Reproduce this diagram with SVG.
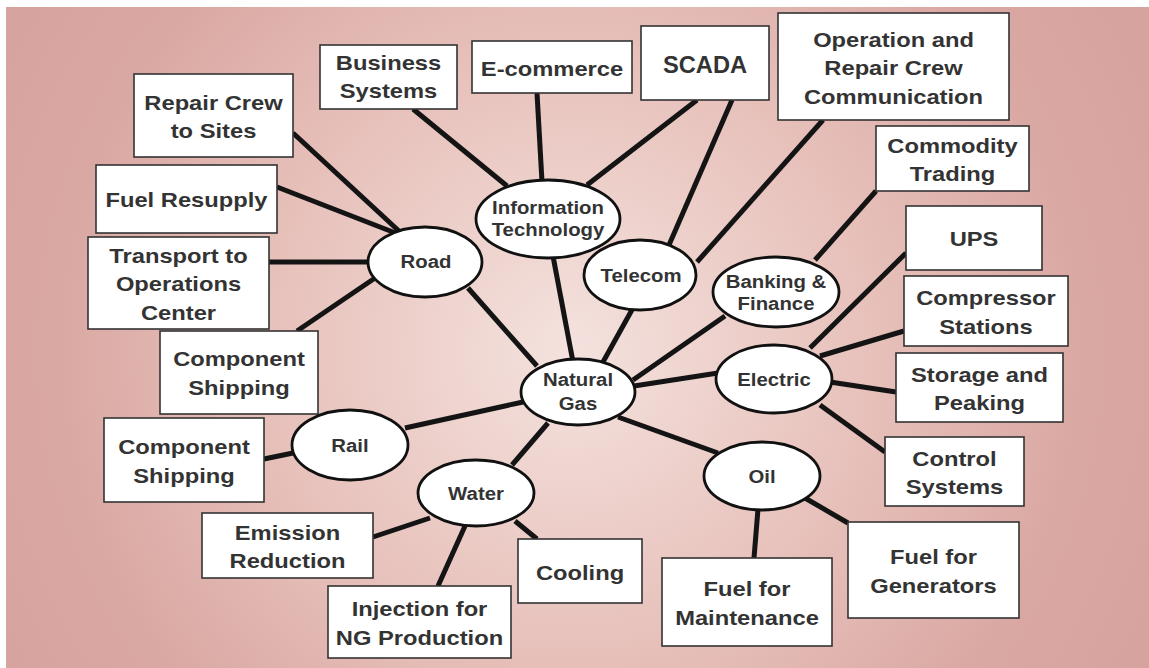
<svg xmlns="http://www.w3.org/2000/svg" width="1149" height="668" viewBox="0 0 1149 668">
<defs>
<radialGradient id="bg" gradientUnits="userSpaceOnUse" cx="570" cy="350" r="640">
<stop offset="0" stop-color="#f4e2de"/>
<stop offset="0.45" stop-color="#e8c2bc"/>
<stop offset="0.8" stop-color="#daa8a3"/>
<stop offset="1" stop-color="#d7a39e"/>
</radialGradient>
<style>
.box{fill:#fff;stroke:#333;stroke-width:1.6}
.ell{fill:#fff;stroke:#111;stroke-width:2.8}
.bt{font-family:"Liberation Sans",Arial,sans-serif;font-weight:bold;font-size:21px;fill:#333;text-anchor:middle}
.et{font-family:"Liberation Sans",Arial,sans-serif;font-weight:bold;font-size:18.5px;fill:#333;text-anchor:middle}
.con line{stroke:#141414;stroke-width:5;stroke-linecap:butt}
</style>
</defs>
<rect x="0" y="0" width="1149" height="668" fill="#fff"/>
<rect x="6" y="7" width="1143" height="661" fill="url(#bg)"/>
<g class="con" id="connectors">
<line x1="293" y1="133" x2="400" y2="232"/>
<line x1="277" y1="187" x2="398" y2="234"/>
<line x1="269" y1="262" x2="370" y2="262"/>
<line x1="297" y1="331" x2="375" y2="278"/>
<line x1="413" y1="109" x2="507" y2="186"/>
<line x1="537" y1="93" x2="542" y2="182"/>
<line x1="697" y1="100" x2="587" y2="185"/>
<line x1="732" y1="100" x2="669" y2="245"/>
<line x1="823" y1="120" x2="697" y2="262"/>
<line x1="553" y1="256" x2="573" y2="362"/>
<line x1="468" y1="288" x2="537" y2="366"/>
<line x1="633" y1="308" x2="603" y2="362"/>
<line x1="725" y1="316" x2="633" y2="380"/>
<line x1="876" y1="191" x2="815" y2="260"/>
<line x1="906" y1="253" x2="810" y2="348"/>
<line x1="904" y1="331" x2="820" y2="356"/>
<line x1="830" y1="382" x2="896" y2="392"/>
<line x1="820" y1="405" x2="885" y2="452"/>
<line x1="718" y1="373" x2="634" y2="386"/>
<line x1="618" y1="417" x2="718" y2="453"/>
<line x1="523" y1="402" x2="405" y2="428"/>
<line x1="548" y1="423" x2="512" y2="465"/>
<line x1="293" y1="453" x2="264" y2="459"/>
<line x1="430" y1="518" x2="373" y2="537"/>
<line x1="465" y1="526" x2="438" y2="586"/>
<line x1="515" y1="521" x2="537" y2="539"/>
<line x1="758" y1="509" x2="754" y2="558"/>
<line x1="805" y1="498" x2="848" y2="523"/>
</g>
<g id="repair-crew"><rect class="box" x="134" y="74" width="159" height="83"/><text class="bt" transform="translate(213.5,0) scale(1.13,1)"><tspan x="0" y="109.7">Repair Crew</tspan><tspan x="0" y="138.2">to Sites</tspan></text></g>
<g id="fuel-resupply"><rect class="box" x="96" y="165" width="181" height="68"/><text class="bt" transform="translate(186.5,0) scale(1.13,1)" x="0" y="207.5">Fuel Resupply</text></g>
<g id="transport"><rect class="box" x="88" y="237" width="181" height="92"/><text class="bt" transform="translate(178.5,0) scale(1.13,1)"><tspan x="0" y="263">Transport to</tspan><tspan x="0" y="291.5">Operations</tspan><tspan x="0" y="320">Center</tspan></text></g>
<g id="component-shipping-road"><rect class="box" x="160" y="331" width="158" height="83"/><text class="bt" transform="translate(239,0) scale(1.13,1)"><tspan x="0" y="366.2">Component</tspan><tspan x="0" y="394.7">Shipping</tspan></text></g>
<g id="component-shipping-rail"><rect class="box" x="104" y="418" width="160" height="84"/><text class="bt" transform="translate(184,0) scale(1.13,1)"><tspan x="0" y="454.2">Component</tspan><tspan x="0" y="482.7">Shipping</tspan></text></g>
<g id="business-systems"><rect class="box" x="320" y="45" width="137" height="64"/><text class="bt" transform="translate(388.5,0) scale(1.13,1)"><tspan x="0" y="70.5">Business</tspan><tspan x="0" y="98.5">Systems</tspan></text></g>
<g id="e-commerce"><rect class="box" x="472" y="41" width="160" height="52"/><text class="bt" transform="translate(552,0) scale(1.13,1)" x="0" y="76">E-commerce</text></g>
<g id="scada"><rect class="box" x="641" y="26" width="128" height="74"/><text class="bt" style="font-size:23px" transform="translate(705,0) scale(1.03,1)" x="0" y="73.5">SCADA</text></g>
<g id="operation-repair"><rect class="box" x="778" y="13" width="231" height="107"/><text class="bt" transform="translate(893.5,0) scale(1.13,1)"><tspan x="0" y="47">Operation and</tspan><tspan x="0" y="75.5">Repair Crew</tspan><tspan x="0" y="104">Communication</tspan></text></g>
<g id="commodity-trading"><rect class="box" x="876" y="126" width="153" height="65"/><text class="bt" transform="translate(952.5,0) scale(1.13,1)"><tspan x="0" y="152.7">Commodity</tspan><tspan x="0" y="181.2">Trading</tspan></text></g>
<g id="ups"><rect class="box" x="906" y="206" width="136" height="64"/><text class="bt" transform="translate(974,0) scale(1.13,1)" x="0" y="246.5">UPS</text></g>
<g id="compressor-stations"><rect class="box" x="904" y="276" width="164" height="70"/><text class="bt" transform="translate(986,0) scale(1.13,1)"><tspan x="0" y="305.2">Compressor</tspan><tspan x="0" y="333.7">Stations</tspan></text></g>
<g id="storage-peaking"><rect class="box" x="896" y="353" width="167" height="69"/><text class="bt" transform="translate(979.5,0) scale(1.13,1)"><tspan x="0" y="381.7">Storage and</tspan><tspan x="0" y="410.2">Peaking</tspan></text></g>
<g id="control-systems"><rect class="box" x="885" y="437" width="139" height="69"/><text class="bt" transform="translate(954.5,0) scale(1.13,1)"><tspan x="0" y="465.7">Control</tspan><tspan x="0" y="494.2">Systems</tspan></text></g>
<g id="fuel-generators"><rect class="box" x="848" y="522" width="171" height="96"/><text class="bt" transform="translate(933.5,0) scale(1.13,1)"><tspan x="0" y="564.2">Fuel for</tspan><tspan x="0" y="592.7">Generators</tspan></text></g>
<g id="fuel-maintenance"><rect class="box" x="662" y="558" width="170" height="88"/><text class="bt" transform="translate(747,0) scale(1.13,1)"><tspan x="0" y="596.2">Fuel for</tspan><tspan x="0" y="624.7">Maintenance</tspan></text></g>
<g id="cooling"><rect class="box" x="518" y="539" width="124" height="64"/><text class="bt" transform="translate(580,0) scale(1.13,1)" x="0" y="580">Cooling</text></g>
<g id="injection"><rect class="box" x="328" y="586" width="183" height="72"/><text class="bt" transform="translate(419.5,0) scale(1.13,1)"><tspan x="0" y="616.2">Injection for</tspan><tspan x="0" y="644.7">NG Production</tspan></text></g>
<g id="emission-reduction"><rect class="box" x="202" y="513" width="171" height="65"/><text class="bt" transform="translate(287.5,0) scale(1.13,1)"><tspan x="0" y="539.7">Emission</tspan><tspan x="0" y="568.2">Reduction</tspan></text></g>
<g id="information-technology"><ellipse class="ell" cx="548" cy="219" rx="72" ry="39"/><text class="et" transform="translate(548,0) scale(1.1,1)"><tspan x="0" y="214.5">Information</tspan><tspan x="0" y="236.5">Technology</tspan></text></g>
<g id="telecom"><ellipse class="ell" cx="640" cy="275" rx="56" ry="35"/><text class="et" transform="translate(641,0) scale(1.1,1)" x="0" y="282">Telecom</text></g>
<g id="banking-finance"><ellipse class="ell" cx="776" cy="292" rx="63" ry="35"/><text class="et" transform="translate(776,0) scale(1.1,1)"><tspan x="0" y="288">Banking &amp;</tspan><tspan x="0" y="310">Finance</tspan></text></g>
<g id="road"><ellipse class="ell" cx="425" cy="262" rx="57" ry="35"/><text class="et" transform="translate(426,0) scale(1.1,1)" x="0" y="268.5">Road</text></g>
<g id="natural-gas"><ellipse class="ell" cx="578" cy="392" rx="57" ry="33"/><text class="et" transform="translate(578,0) scale(1.1,1)"><tspan x="0" y="386">Natural</tspan><tspan x="0" y="410">Gas</tspan></text></g>
<g id="electric"><ellipse class="ell" cx="774" cy="379" rx="58" ry="34"/><text class="et" transform="translate(774,0) scale(1.1,1)" x="0" y="386">Electric</text></g>
<g id="rail"><ellipse class="ell" cx="350" cy="445" rx="58" ry="35"/><text class="et" transform="translate(350,0) scale(1.1,1)" x="0" y="452">Rail</text></g>
<g id="water"><ellipse class="ell" cx="476" cy="493" rx="58" ry="33"/><text class="et" transform="translate(476,0) scale(1.1,1)" x="0" y="500">Water</text></g>
<g id="oil"><ellipse class="ell" cx="762" cy="476" rx="58" ry="34"/><text class="et" transform="translate(762,0) scale(1.1,1)" x="0" y="483">Oil</text></g>
</svg>
